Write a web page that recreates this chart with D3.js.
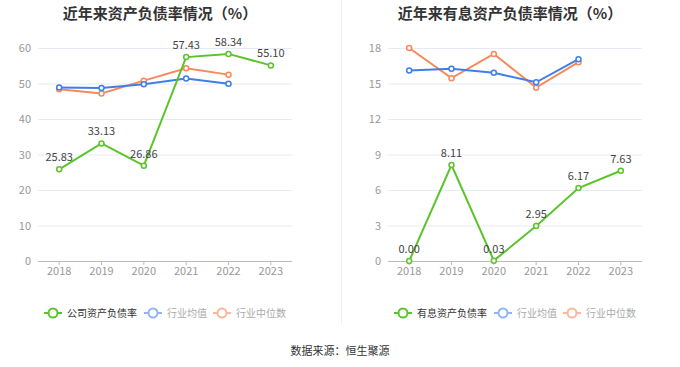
<!DOCTYPE html>
<html>
<head>
<meta charset="utf-8">
<script src="https://cdn.jsdelivr.net/npm/d3@7"></script>
<style>
	body { margin: 0; background: #fff; font-family: "Noto Sans CJK SC", "Noto Sans", sans-serif; }
	svg text { font-family: "Noto Sans CJK SC", "Noto Sans", sans-serif; }
</style>
</head>
<body>
<svg id="chart" width="680" height="367"></svg>
<script>
const years = ['2018', '2019', '2020', '2021', '2022', '2023']

// 近年来资产负债率情况
const debtRatio = [25.83, 33.13, 26.86, 57.43, 58.34, 55.10]
const debtIndAvg = [48.9, 48.7, 49.8, 51.4, 49.9, null]
const debtIndMed = [48.4, 47.2, 50.8, 54.3, 52.5, null]
const debtTicks = [0, 10, 20, 30, 40, 50, 60]

// 近年来有息资产负债率情况
const intRatio = [0.00, 8.11, 0.03, 2.95, 6.17, 7.63]
const intIndAvg = [16.1, 16.25, 15.9, 15.1, 17.05, null]
const intIndMed = [18.0, 15.45, 17.5, 14.65, 16.8, null]
const intTicks = [0, 3, 6, 9, 12, 15, 18]

const colors = {
	main: '#5bc42b',
	avg: '#3f7ee8',
	med: '#f7895b',
	avgLight: '#93b4f3',
	medLight: '#f9b89c'
}

const svg = d3.select('#chart')

// divider between the two panels
svg.append('line')
	.attr('x1', 341.5).attr('x2', 341.5)
	.attr('y1', 0).attr('y2', 325)
	.style('stroke', '#f0f0f0')
	.style('stroke-width', 1)

const drawPanel = (opts) => {

	const g = svg.append('g')
	const top = 48, bottom = 261

	const x = d3.scaleBand()
		.domain(years)
		.range([opts.left, opts.left + 254])

	const y = d3.scaleLinear()
		.domain([0, opts.max])
		.range([bottom, top])

	g.append('text')
		.attr('x', opts.left + 122)
		.attr('y', 19)
		.attr('text-anchor', 'middle')
		.style('font-size', '15px')
		.style('font-weight', 'bold')
		.style('fill', '#333')
		.text(opts.title)

	// grid
	g.selectAll('.grid')
		.data(opts.ticks.filter(d => d > 0))
		.enter()
		.append('line')
		.attr('x1', opts.left)
		.attr('x2', opts.left + 254)
		.attr('y1', d => y(d) + 0.5)
		.attr('y2', d => y(d) + 0.5)
		.style('stroke', '#e6eaf3')

	g.selectAll('.ylab')
		.data(opts.ticks)
		.enter()
		.append('text')
		.attr('x', opts.left - 7)
		.attr('y', d => y(d) + 4)
		.attr('text-anchor', 'end')
		.style('font-size', '11px')
		.style('fill', '#999')
		.text(d => d)

	// x axis
	g.append('line')
		.attr('x1', opts.left)
		.attr('x2', opts.left + 254)
		.attr('y1', bottom + 0.5)
		.attr('y2', bottom + 0.5)
		.style('stroke', '#bbb')

	g.selectAll('.xtick')
		.data(years)
		.enter()
		.append('line')
		.attr('x1', d => x(d) + x.bandwidth() / 2)
		.attr('x2', d => x(d) + x.bandwidth() / 2)
		.attr('y1', bottom)
		.attr('y2', bottom + 4)
		.style('stroke', '#bbb')

	g.selectAll('.xlab')
		.data(years)
		.enter()
		.append('text')
		.attr('x', d => x(d) + x.bandwidth() / 2)
		.attr('y', bottom + 14)
		.attr('text-anchor', 'middle')
		.style('font-size', '11px')
		.style('fill', '#999')
		.text(d => d)

	const cx = (d, i) => x(years[i]) + x.bandwidth() / 2

	const series = [
		{ values: opts.med, color: colors.med },
		{ values: opts.avg, color: colors.avg },
		{ values: opts.main, color: colors.main }
	]

	series.forEach(s => {
		const pts = s.values.map((v, i) => ({ v, i })).filter(d => d.v !== null)
		const line = d3.line()
			.x(d => cx(null, d.i))
			.y(d => y(d.v))
		g.append('path')
			.attr('d', line(pts))
			.style('fill', 'none')
			.style('stroke', s.color)
			.style('stroke-width', 2)
		g.selectAll(null)
			.data(pts)
			.enter()
			.append('circle')
			.attr('cx', d => cx(null, d.i))
			.attr('cy', d => y(d.v))
			.attr('r', 2.5)
			.style('fill', '#fff')
			.style('stroke', s.color)
			.style('stroke-width', 1.5)
	})

	g.selectAll('.vlab')
		.data(opts.main)
		.enter()
		.append('text')
		.attr('x', (d, i) => cx(d, i))
		.attr('y', d => y(d) - 8)
		.attr('text-anchor', 'middle')
		.style('font-size', '11px')
		.style('fill', '#444')
		.text(d => d.toFixed(2))

	// legend
	const legend = [
		{ name: opts.mainName, color: colors.main, text: '#333', x: opts.left + 6 },
		{ name: '行业均值', color: colors.avgLight, text: '#aaa', x: opts.left + 106 },
		{ name: '行业中位数', color: colors.medLight, text: '#aaa', x: opts.left + 175 }
	]

	const lg = g.selectAll('.legend')
		.data(legend)
		.enter()
		.append('g')
		.attr('transform', d => 'translate(' + d.x + ', 313)')

	lg.append('line')
		.attr('x1', 0).attr('x2', 18)
		.attr('y1', 0).attr('y2', 0)
		.style('stroke', d => d.color)
		.style('stroke-width', 2)

	lg.append('circle')
		.attr('cx', 9).attr('cy', 0).attr('r', 4.5)
		.style('fill', '#fff')
		.style('stroke', d => d.color)
		.style('stroke-width', 2)

	lg.append('text')
		.attr('x', 23)
		.attr('y', 3.5)
		.style('font-size', '10px')
		.style('fill', d => d.text)
		.text(d => d.name)
}

drawPanel({
	left: 38,
	max: 60,
	ticks: debtTicks,
	title: '近年来资产负债率情况（%）',
	mainName: '公司资产负债率',
	main: debtRatio,
	avg: debtIndAvg,
	med: debtIndMed
})

drawPanel({
	left: 388,
	max: 18,
	ticks: intTicks,
	title: '近年来有息资产负债率情况（%）',
	mainName: '有息资产负债率',
	main: intRatio,
	avg: intIndAvg,
	med: intIndMed
})

svg.append('text')
	.attr('x', 340)
	.attr('y', 355)
	.attr('text-anchor', 'middle')
	.style('font-size', '11px')
	.style('fill', '#333')
	.text('数据来源：恒生聚源')
</script>
</body>
</html>
